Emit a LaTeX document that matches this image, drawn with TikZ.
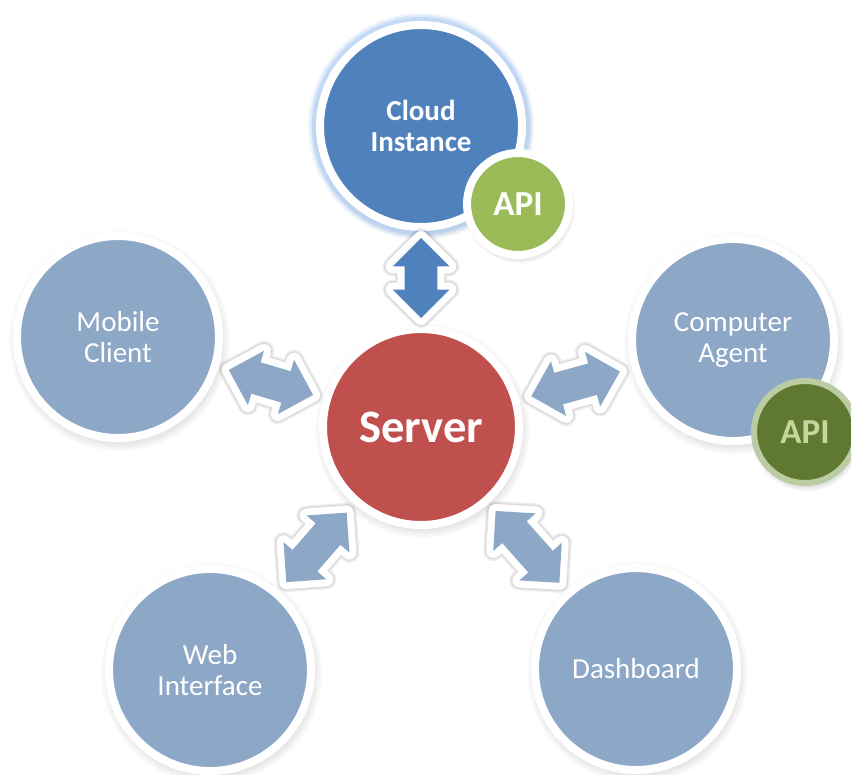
\documentclass[tikz,border=0pt]{standalone}
\usepackage{fontspec}
\setmainfont{Carlito}
\usetikzlibrary{shapes.arrows,shadows,fadings}
\newdimen\pxu
\pxu=0.02cm
\definecolor{hubblue}{RGB}{79,129,189}
\definecolor{paleblue}{RGB}{141,167,199}
\definecolor{hubred}{RGB}{192,80,77}
\definecolor{apigreen}{RGB}{155,187,89}
\definecolor{apidark}{RGB}{95,122,48}
\definecolor{apitext}{RGB}{196,214,155}
\definecolor{apiring}{RGB}{188,204,162}
\definecolor{glowblue}{RGB}{160,196,240}
\tikzset{
hub/.style={
  circle,
  minimum size=202\pxu,
  inner sep=0pt,
  draw=white,
  line width=8\pxu,
  text=white,
  align=center,
  font=\fontsize{16.5}{18}\selectfont,
  circular drop shadow={shadow xshift=1\pxu, shadow yshift=-3\pxu, opacity=0.35}
  },
apibox/.style={
  circle,
  minimum size=102\pxu,
  inner sep=0pt,
  line width=8\pxu,
  font=\fontsize{20}{22}\selectfont\bfseries,
  circular drop shadow={shadow xshift=1\pxu, shadow yshift=-3\pxu, opacity=0.35}
  },
biarrow/.style={
  double arrow,
  double arrow tip angle=90,
  double arrow head extend=12\pxu,
  inner xsep=0pt,
  inner ysep=16\pxu,
  fill=paleblue,
  preaction={draw=black, opacity=0.07, line width=20\pxu, line join=round},
  preaction={draw=black, opacity=0.07, line width=17\pxu, line join=round},
  preaction={draw=white, line width=14\pxu, line join=round}
  }
}

\begin{document}
\begin{tikzpicture}[x=0.02cm, y=-0.02cm]
\useasboundingbox (0,0) rectangle (851,774);

% outer circles
\node[hub, fill=hubblue, font=\fontsize{16.5}{18}\selectfont\bfseries,
  preaction={draw=glowblue, opacity=0.15, line width=24\pxu},
  preaction={draw=glowblue, opacity=0.25, line width=20\pxu},
  preaction={draw=glowblue, opacity=0.4, line width=16\pxu}]
at (421,126)
(cloud)
{Cloud\\Instance};
\node[apibox, fill=apigreen, draw=white, text=white]
at (518,204)
(apitop)
{API};
\node[hub, fill=paleblue]
at (118,337)
(mob)
{Mobile\\Client};
\node[hub, fill=paleblue]
at (733,340)
(agent)
{Computer\\Agent};
\node[apibox, fill=apidark, draw=apiring, line width=6\pxu, text=apitext]
at (805,432)
(apiright)
{API};
\node[hub, fill=paleblue]
at (210,670)
(web)
{Web\\Interface};
\node[hub, fill=paleblue]
at (636,669)
(dash)
{Dashboard};

% centre
\node[hub, fill=hubred, minimum size=196\pxu,
  font=\fontsize{26.5}{28}\selectfont\bfseries]
at (421,427)
(srv)
{Server};

% double arrows
\path (cloud) -- node[biarrow, sloped, fill=hubblue, minimum height=80\pxu] (acloud) {} (srv);
\path (mob) -- node[biarrow, sloped, minimum height=88\pxu] (amob) {} (srv);
\path (agent) -- node[biarrow, sloped, minimum height=92\pxu] (aagent) {} (srv);
\path (web) -- node[biarrow, sloped, minimum height=92\pxu] (aweb) {} (srv);
\path (dash) -- node[biarrow, sloped, minimum height=96\pxu] (adash) {} (srv);
\end{tikzpicture}
\end{document}
